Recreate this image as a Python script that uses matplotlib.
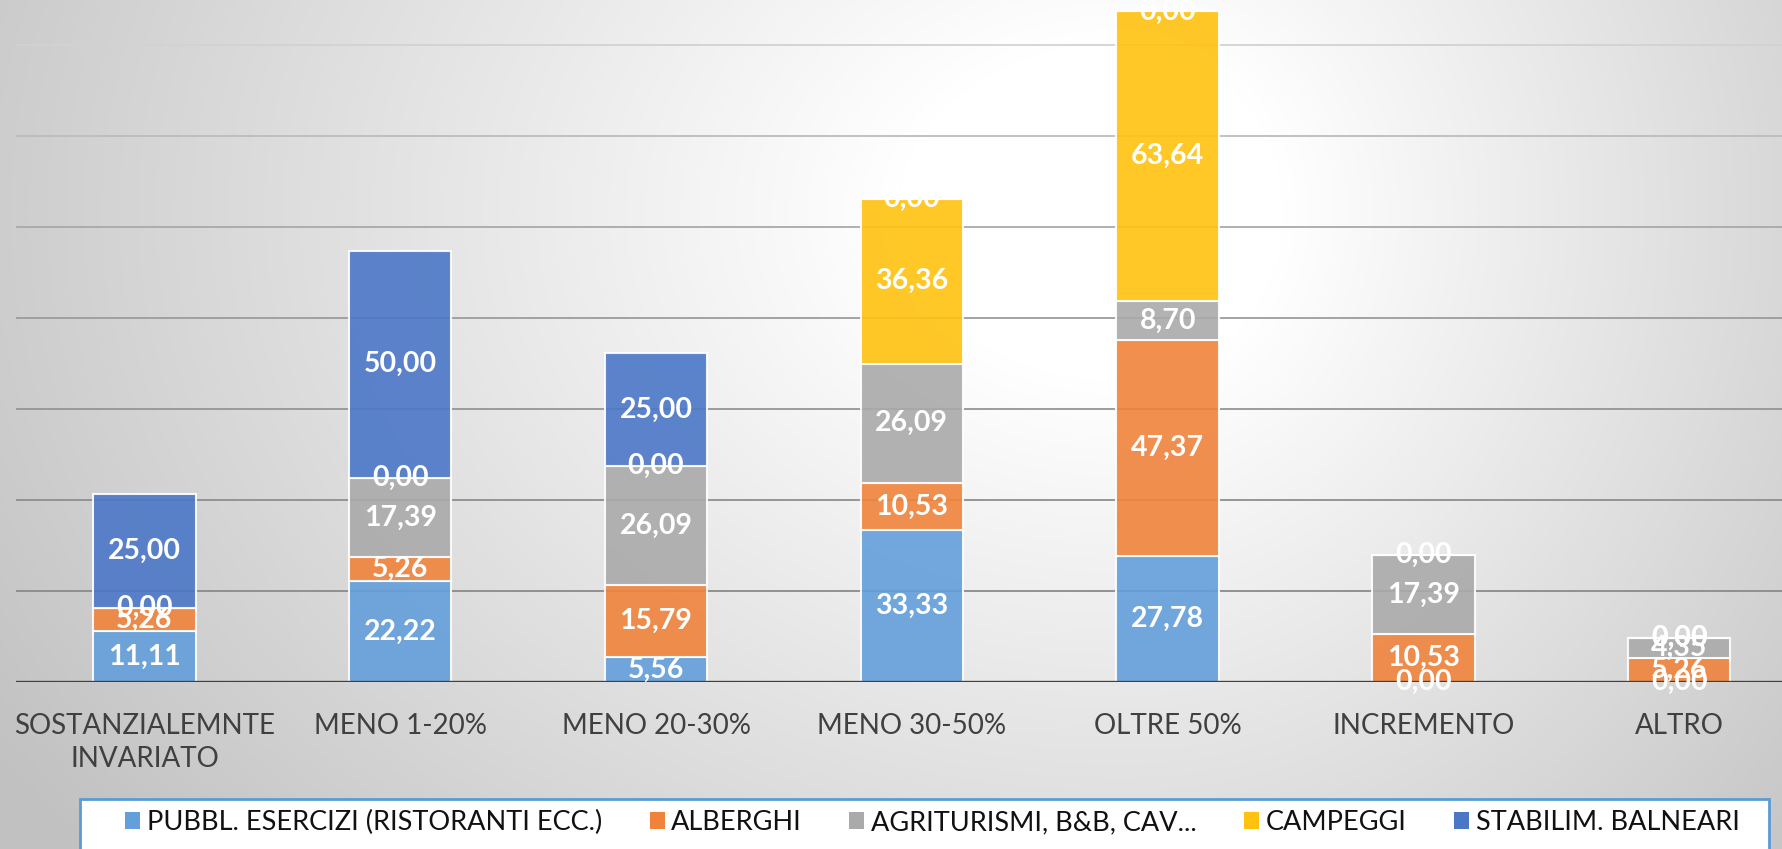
import numpy as np
import matplotlib

matplotlib.use("Agg")
import matplotlib.pyplot as plt
from matplotlib.patches import Patch, Rectangle

plt.rcParams["font.family"] = ["Lato", "DejaVu Sans"]

categories = ["SOSTANZIALEMNTE\nINVARIATO", "MENO 1-20%", "MENO 20-30%", "MENO 30-50%",
              "OLTRE 50%", "INCREMENTO", "ALTRO"]
series_names = ["PUBBL. ESERCIZI (RISTORANTI ECC.)", "ALBERGHI", "AGRITURISMI, B&B, CAV...",
                "CAMPEGGI", "STABILIM. BALNEARI"]
nan = np.nan
pubbl = [11.11, 22.22, 5.56, 33.33, 27.78, 0.00, 0.00]
alberghi = [5.26, 5.26, 15.79, 10.53, 47.37, 10.53, 5.26]
agriturismi = [0.00, 17.39, 26.09, 26.09, 8.70, 17.39, 4.35]
campeggi = [nan, 0.00, 0.00, 36.36, 63.64, 0.00, 0.00]
balneari = [25.00, 50.00, 25.00, 0.00, 0.00, nan, 0.00]
series = [pubbl, alberghi, agriturismi, campeggi, balneari]
colors = ["#639FDA", "#F0833C", "#AAAAAA", "#FFC20F", "#4B77C7"]
grid_levels = [20, 40, 60, 80, 100, 120, 140]
grid_colors = ["#8a8a8a", "#8e8e8e", "#959595", "#9c9c9c", "#a9a9a9", "#bcbcbc", "#d2d2d2"]

W, H = 1783, 849
fig = plt.figure(figsize=(W / 100, H / 100), dpi=100)
fig.patch.set_alpha(0)

# radial grey background
bg = fig.add_axes((0, 0, 1, 1), zorder=-5)
yy, xx = np.mgrid[0:1:H * 1j, 0:1:W * 1j]
cx, cy = 0.63, 0.25
dx = np.where(xx < cx, (xx - cx) / 0.63, (xx - cx) / 0.45)
dy = (yy - cy) / 1.0
r = np.sqrt(dx ** 2 + dy ** 2)
v = 255 - 62 * np.clip((r - 0.2) / 1.0, 0, 1)
bg.imshow(np.dstack([v, v, v]).astype(np.uint8), extent=(0, 1, 0, 1), aspect="auto")
bg.axis("off")

ax = fig.add_axes((0.00925, 1 - 682 / H, 1.0043, 682 / H))
ax.set_facecolor("none")
x = np.arange(len(categories))

for lvl, gc in zip(grid_levels, grid_colors):
    ax.axhline(lvl, color=gc, lw=1.3, zorder=0)

bottom = np.zeros(len(categories))
for vals, col in zip(series, colors):
    vals = np.array(vals, dtype=float)
    h = np.nan_to_num(vals)
    ax.bar(x, h, 0.4, bottom=bottom, color=col, alpha=0.9,
           edgecolor=(1, 1, 1, 0.3), linewidth=1.5, zorder=2)
    for xi, b, val in zip(x, bottom, vals):
        if np.isnan(val):
            continue
        ax.text(xi, b + val / 2, f"{val:.2f}".replace(".", ","), ha="center", va="center",
                color="white", fontsize=20.5, fontweight="bold", zorder=4)
    bottom = bottom + h

ax.axhline(0, color="#404040", lw=2.4, zorder=3)
ax.set_xlim(-0.5, len(categories) - 0.5)
ax.set_ylim(0, 150)
ax.set_yticks([])
ax.set_xticks(x)
ax.set_xticklabels(categories, fontsize=20, color="#404040", linespacing=1.35)
ax.tick_params(axis="x", length=0, pad=22)
for s in ax.spines.values():
    s.set_visible(False)

# legend box
fig.patches.append(Rectangle((80 / W, -0.05), (1769 - 80) / W, 0.05 + 50 / H,
                             transform=fig.transFigure, facecolor="white",
                             edgecolor="#5B9BD5", lw=2, zorder=1))
handles = [Patch(facecolor=c, edgecolor="none") for c in colors]
fig.legend(handles, series_names, loc="center", bbox_to_anchor=(0.523, 0.031), ncol=5,
           frameon=False, fontsize=19.5, handlelength=0.55, handleheight=0.6,
           handletextpad=0.25, columnspacing=1.75, labelcolor="#111111")

fig.savefig("out.png", dpi=100)
